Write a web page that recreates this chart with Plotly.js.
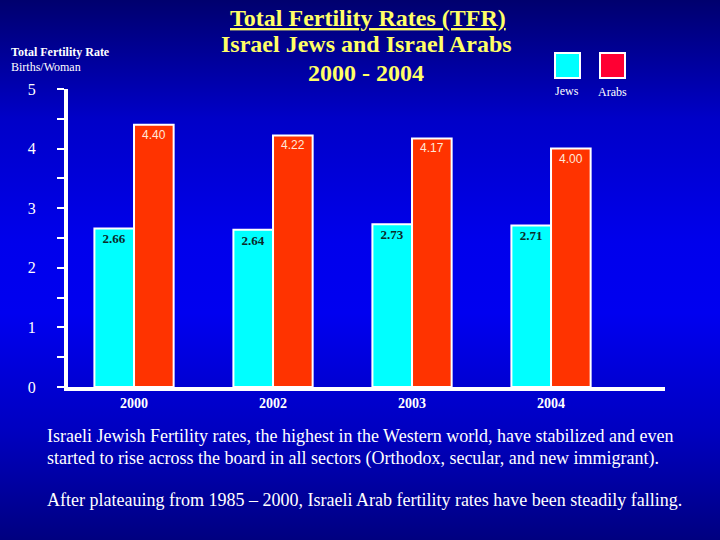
<!DOCTYPE html>
<html>
<head>
<meta charset="utf-8">
<script src="https://cdn.plot.ly/plotly-3.0.1.min.js"></script>
<style>
html,body{margin:0;padding:0;width:720px;height:540px;overflow:hidden;}
body{background:linear-gradient(to bottom,#00006e 0%,#0000c8 22%,#0000ec 45%,#0000f0 58%,#0000c0 80%,#000080 100%);}
#chart{width:720px;height:540px;}
</style>
</head>
<body>
<div id="chart"></div>
<script>
// ---- data ----
const years = ['2000', '2002', '2003', '2004'];
const jews = [2.66, 2.64, 2.73, 2.71];
const arabs = [4.40, 4.22, 4.17, 4.00];
const yTicks = [0, 1, 2, 3, 4, 5];
const seriesNames = ['Jews', 'Arabs'];
const titleLines = ['<u>Total Fertility Rates (TFR)</u>', 'Israel Jews and Israel Arabs', '2000 - 2004'];
const noteLines = [
  'Israeli Jewish Fertility rates, the highest in the Western world, have stabilized and even',
  'started to rise across the board in all sectors (Orthodox, secular, and new immigrant).',
  'After plateauing from 1985 \u2013 2000, Israeli Arab fertility rates have been steadily falling.'
];

// ---- layout helpers (pixel -> paper) ----
const L = 68, R = 55, T = 89, B = 153, W = 720, H = 540;
const pw = W - L - R, ph = H - T - B;
const px = x => (x - L) / pw;
const py = y => (H - B - y) / ph;

const serif = 'Liberation Serif, Times New Roman, serif';
const sans = 'Liberation Sans, Arial, sans-serif';

const traces = [
  {
    type: 'bar', name: seriesNames[0], x: years, y: jews,
    marker: {color: '#00ffff', line: {color: '#ffffff', width: 2}},
    text: jews.map(v => v.toFixed(2)), textposition: 'inside', insidetextanchor: 'end',
    textangle: 0, constraintext: 'none',
    textfont: {family: serif, size: 13, color: '#0b2b2b', weight: 'bold'},
    hoverinfo: 'none'
  },
  {
    type: 'bar', name: seriesNames[1], x: years, y: arabs,
    marker: {color: '#ff3300', line: {color: '#ffffff', width: 2}},
    text: arabs.map(v => v.toFixed(2)), textposition: 'inside', insidetextanchor: 'end',
    textangle: 0, constraintext: 'none',
    textfont: {family: sans, size: 12, color: '#ffe8d8'},
    hoverinfo: 'none'
  }
];

function ann(text, x, y, xanchor, font) {
  return {text: text, x: px(x), y: py(y), xref: 'paper', yref: 'paper',
          xanchor: xanchor, yanchor: 'middle', showarrow: false, font: font};
}
const titleFont = {family: serif, size: 24, color: '#ffff66', weight: 'bold'};
const noteFont = {family: serif, size: 18, color: '#ffffff'};
const smallFont = {family: serif, size: 12, color: '#ffffff'};

const annotations = [
  ann(titleLines[0], 368, 18, 'center', titleFont),
  ann(titleLines[1], 366, 44, 'center', titleFont),
  ann(titleLines[2], 366, 73, 'center', titleFont),
  ann('<b>Total Fertility Rate</b>', 9, 52, 'left', smallFont),
  ann('Births/Woman', 9, 67, 'left', smallFont),
  ann(seriesNames[0], 567, 91, 'center', smallFont),
  ann(seriesNames[1], 612, 92, 'center', smallFont),
  ann(noteLines[0], 45, 436, 'left', noteFont),
  ann(noteLines[1], 45, 458, 'left', noteFont),
  ann(noteLines[2], 45, 500, 'left', noteFont)
];

const shapes = [
  {type: 'rect', xref: 'paper', yref: 'paper', x0: px(555), x1: px(580), y0: py(78), y1: py(53),
   fillcolor: '#00ffff', line: {color: '#ffffff', width: 2}},
  {type: 'rect', xref: 'paper', yref: 'paper', x0: px(600), x1: px(625), y0: py(78), y1: py(53),
   fillcolor: '#ff0033', line: {color: '#ffffff', width: 2}}
];

const layout = {
  width: W, height: H,
  margin: {l: L, r: R, t: T, b: B, pad: 0},
  paper_bgcolor: 'rgba(0,0,0,0)', plot_bgcolor: 'rgba(0,0,0,0)',
  showlegend: false,
  barmode: 'group', bargap: 0.43, bargroupgap: 0,
  xaxis: {
    type: 'category', range: [-0.475, 3.82], showgrid: false, zeroline: false,
    showline: true, linecolor: '#ffffff', linewidth: 4, ticks: '',
    ticklabelstandoff: 0,
    tickfont: {family: serif, size: 14, color: '#ffffff', weight: 'bold'}
  },
  yaxis: {
    range: [0, 5], tickvals: yTicks, ticktext: yTicks.map(String),
    showgrid: false, zeroline: false,
    showline: true, linecolor: '#ffffff', linewidth: 4,
    ticks: 'outside', ticklen: 7, tickwidth: 2, tickcolor: '#ffffff',
    minor: {dtick: 0.5, ticks: 'outside', ticklen: 7, tickwidth: 2, tickcolor: '#ffffff', showgrid: false},
    ticklabelstandoff: 18,
    tickfont: {family: serif, size: 16, color: '#ffffff'}
  },
  annotations: annotations,
  shapes: shapes
};

Plotly.newPlot('chart', traces, layout, {displayModeBar: false, staticPlot: true});
</script>
</body>
</html>
